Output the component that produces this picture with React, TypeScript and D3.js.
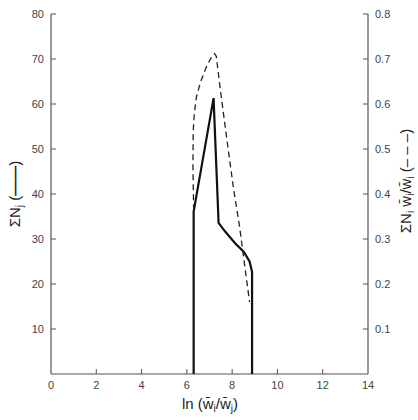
import React from "react";
import * as d3 from "d3";

const xTicks = [0, 2, 4, 6, 8, 10, 12, 14];
const leftTicks = [10, 20, 30, 40, 50, 60, 70, 80];
const rightTicks = [0.1, 0.2, 0.3, 0.4, 0.5, 0.6, 0.7, 0.8];

// Solid curve: ΣNj vs ln(wi/wj)
const solidX = [6.3, 6.3, 7.18, 7.4, 7.4, 7.7, 8.14, 8.51, 8.77, 8.88, 8.88];
const solidY = [0, 36.1, 61.3, 33.8, 33.6, 31.6, 29.0, 27.2, 25.0, 22.7, 0];

// Dashed curve: ΣNi wi/wi
const dashX = [6.3, 6.27, 6.28, 6.33, 6.42, 6.59, 6.89, 7.08, 7.22, 7.3, 7.48, 7.77, 8.07, 8.33, 8.58, 8.77];
const dashY = [0.364, 0.46, 0.54, 0.58, 0.615, 0.647, 0.686, 0.703, 0.712, 0.706, 0.631, 0.52, 0.409, 0.327, 0.231, 0.16];

const W = 418;
const H = 420;

export default function App() {
  const x = d3.scaleLinear().domain([0, 14]).range([51, 368]);
  const yL = d3.scaleLinear().domain([0, 80]).range([374, 14]);
  const yR = d3.scaleLinear().domain([0, 0.8]).range([374, 14]);

  const solidPts: [number, number][] = solidX.map((v, i) => [v, solidY[i]]);
  const dashPts: [number, number][] = dashX.map((v, i) => [v, dashY[i]]);

  const solidLine = d3
    .line<[number, number]>()
    .x((d) => x(d[0]))
    .y((d) => yL(d[1]));
  const dashLine = d3
    .line<[number, number]>()
    .x((d) => x(d[0]))
    .y((d) => yR(d[1]));

  const axisColor = "#555";
  const textColor = "#444";
  const font = "Liberation Sans, Arial, sans-serif";

  return (
    <svg
      width={W}
      height={H}
      style={{ position: "absolute", left: 0, top: 0, background: "#fff" }}
      fontFamily={font}
    >
      {/* axes lines */}
      <line x1={x(0)} x2={x(0)} y1={yL(80)} y2={yL(0)} stroke={axisColor} strokeWidth={1.2} />
      <line x1={x(14)} x2={x(14)} y1={yR(0.8)} y2={yR(0)} stroke={axisColor} strokeWidth={1.2} />
      <line x1={x(0)} x2={x(14)} y1={yL(0)} y2={yL(0)} stroke={axisColor} strokeWidth={1.2} />

      {/* left ticks */}
      {leftTicks.map((t) => (
        <g key={"l" + t}>
          <line x1={x(0)} x2={x(0) + 5} y1={yL(t)} y2={yL(t)} stroke={axisColor} strokeWidth={1} />
          <text x={x(0) - 7} y={yL(t)} dy="0.35em" textAnchor="end" fontSize={11} fill={textColor}>
            {t}
          </text>
        </g>
      ))}

      {/* right ticks */}
      {rightTicks.map((t) => (
        <g key={"r" + t}>
          <line x1={x(14) - 5} x2={x(14)} y1={yR(t)} y2={yR(t)} stroke={axisColor} strokeWidth={1} />
          <text x={x(14) + 7} y={yR(t)} dy="0.35em" textAnchor="start" fontSize={11} fill={textColor}>
            {t.toFixed(1)}
          </text>
        </g>
      ))}

      {/* x ticks */}
      {xTicks.map((t) => (
        <g key={"x" + t}>
          {t > 0 && t < 14 && (
            <line x1={x(t)} x2={x(t)} y1={yL(0)} y2={yL(0) - 5} stroke={axisColor} strokeWidth={1} />
          )}
          <text x={x(t)} y={yL(0) + 15} textAnchor="middle" fontSize={11} fill={textColor}>
            {t}
          </text>
        </g>
      ))}

      {/* data */}
      <path d={solidLine(solidPts) || ""} fill="none" stroke="#111" strokeWidth={2.2} strokeLinejoin="miter" />
      <path d={dashLine(dashPts) || ""} fill="none" stroke="#222" strokeWidth={1.3} strokeDasharray="6,4" />

      {/* x title */}
      <text x={210} y={409} textAnchor="middle" fontSize={15} fill="#222">
        ln (w̄
        <tspan fontSize={10} dy={3}>i</tspan>
        <tspan dy={-3}>/w̄</tspan>
        <tspan fontSize={10} dy={3}>j</tspan>
        <tspan dy={-3}>)</tspan>
      </text>

      {/* left title */}
      <text
        transform={`translate(20,194) rotate(-90)`}
        textAnchor="middle"
        fontSize={15}
        fill="#222"
      >
        ΣN
        <tspan fontSize={10} dy={3}>j</tspan>
        <tspan dy={-3}> (</tspan>
        <tspan fontWeight="bold">——</tspan>
        <tspan>)</tspan>
      </text>

      {/* right title */}
      <text
        transform={`translate(411,181) rotate(-90)`}
        textAnchor="middle"
        fontSize={15}
        fill="#222"
      >
        ΣN
        <tspan fontSize={10} dy={3}>i</tspan>
        <tspan dy={-3}> w̄</tspan>
        <tspan fontSize={10} dy={3}>i</tspan>
        <tspan dy={-3}>/w̄</tspan>
        <tspan fontSize={10} dy={3}>i</tspan>
        <tspan dy={-3}> (– – –)</tspan>
      </text>
    </svg>
  );
}
